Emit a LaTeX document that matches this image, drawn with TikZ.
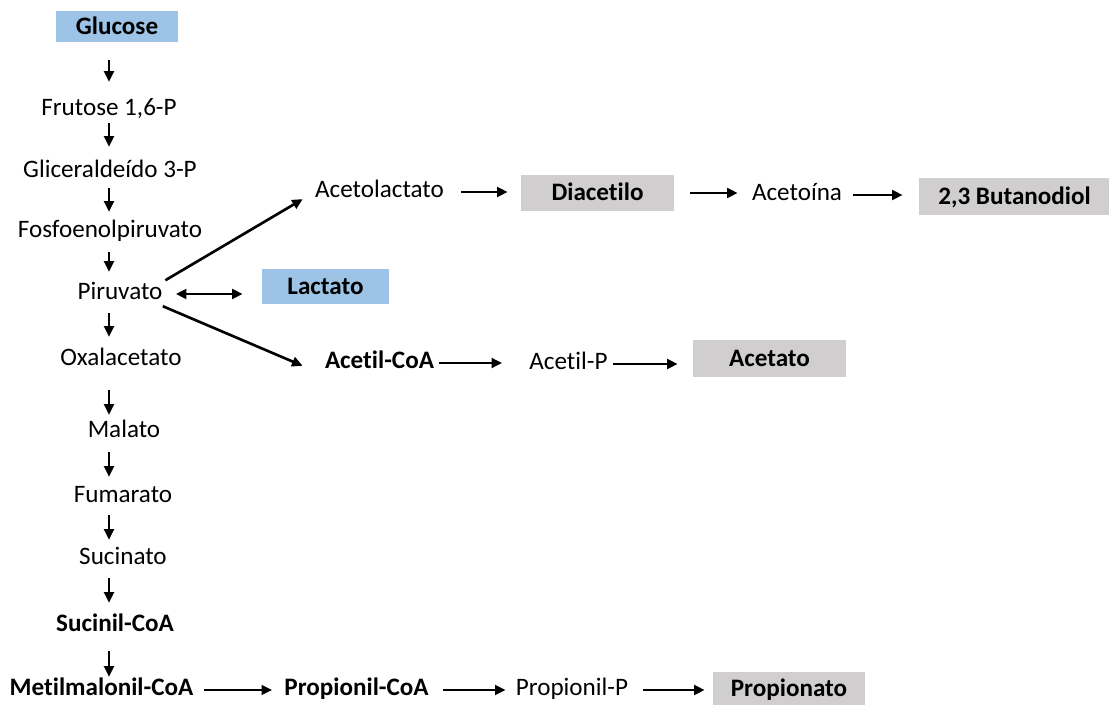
\documentclass[tikz,border=0pt]{standalone}
\usepackage{fontspec}
\setmainfont{Carlito}[Ligatures=NoCommon]
\usepackage{xcolor}
\usetikzlibrary{arrows.meta}
\definecolor{boxblue}{HTML}{9DC3E6}
\definecolor{boxgray}{HTML}{D0CECE}

\begin{document}
\begin{tikzpicture}[
      x=0.02cm, y=-0.02cm,
      font=\fontsize{14.3}{16}\selectfont,
      txt/.style={inner sep=0pt, text height=10pt, text depth=3.5pt},
      boldtxt/.style={txt, font=\fontsize{14.3}{16}\selectfont\bfseries},
      box/.style={boldtxt, text depth=1pt, minimum height=0.72cm},
      arr/.style={-{Triangle[length=6pt,width=5.5pt]}, line width=1.5pt},
      dbl/.style={arr, {Triangle[length=6pt,width=5.5pt]}-{Triangle[length=6pt,width=5.5pt]}}
    ]
    \useasboundingbox (0,0) rectangle (1109,705);

    % Main column
    \node[box, fill=boxblue, minimum width=2.44cm, minimum height=0.62cm] (glc) at (117,26.5) {Glucose};
    \node[txt] (fru)  at (109,110) {Frutose 1,6-P};
    \node[txt] (gli)  at (110,172) {Gliceraldeído 3-P};
    \node[txt] (fos)  at (110,232) {Fosfoenolpiruvato};
    \node[txt] (pir)  at (120,294) {Piruvato};
    \node[txt] (oxa)  at (121,360) {Oxalacetato};
    \node[txt] (mal)  at (124,432) {Malato};
    \node[txt] (fum)  at (123,497) {Fumarato};
    \node[txt] (suc)  at (123,559) {Sucinato};
    \node[boldtxt] (scoa) at (115,626) {Sucinil-CoA};
    \node[boldtxt] (mcoa) at (101.5,690) {Metilmalonil-CoA};

    \coordinate (col) at (109,0);
    \foreach \a/\b/\s/\e in {glc/fru/18/16, fru/gli/1/13, gli/fos/4/8, fos/pir/8/10,
        pir/oxa/7/11, oxa/mal/18/5, mal/fum/8/8, fum/suc/6/7, suc/scoa/7/11, scoa/mcoa/13/1}
      \draw[arr, shorten <=\s*0.02cm, shorten >=\e*0.02cm] (\a.south -| col) -- (\b.north -| col);

    % Branches from Piruvato
    \node[txt] (aclac) at (379.5,192) {Acetolactato};
    \node[box, fill=boxgray, minimum width=3.06cm] (diac) at (597.5,193) {Diacetilo};
    \node[txt] (acn) at (797,195) {Acetoína};
    \node[box, fill=boxgray, minimum width=3.82cm, minimum height=0.74cm] (but) at (1014.5,196.5) {2,3 Butanodiol};
    \node[box, fill=boxblue, minimum width=2.54cm, minimum height=0.70cm] (lac) at (325.5,286.5) {Lactato};
    \node[boldtxt] (acoa) at (379.5,363) {Acetil-CoA};
    \node[txt] (acp) at (568.5,364) {Acetil-P};
    \node[box, fill=boxgray, minimum width=3.06cm, minimum height=0.74cm] (acet) at (769.5,358.5) {Acetato};

    % Propionate row
    \node[boldtxt] (pcoa) at (356.5,690) {Propionil-CoA};
    \node[txt] (ppp) at (572,690) {Propionil-P};
    \node[box, fill=boxgray, minimum width=3.04cm, minimum height=0.68cm] (prop) at (789,689) {Propionato};

    \draw[arr, shorten <=3*0.02cm, shorten >=14*0.02cm] (pir.north east) -- (aclac.west);
    \draw[arr, shorten >=24*0.02cm] (pir.south east) -- (acoa.south west);
    \draw[dbl, shorten <=13*0.02cm, shorten >=19*0.02cm] (pir.east) -- (pir.east -| lac.west);

    \foreach \a/\b/\s/\e in {aclac/diac/17/13, diac/acn/16/14, acn/but/11/16, acoa/acp/5/27,
        acp/acet/5/15, mcoa/pcoa/10/12, pcoa/ppp/14/10, ppp/prop/15/8}
      \draw[arr, shorten <=\s*0.02cm, shorten >=\e*0.02cm] (\a.east) -- (\a.east -| \b.west);
  \end{tikzpicture}
\end{document}
